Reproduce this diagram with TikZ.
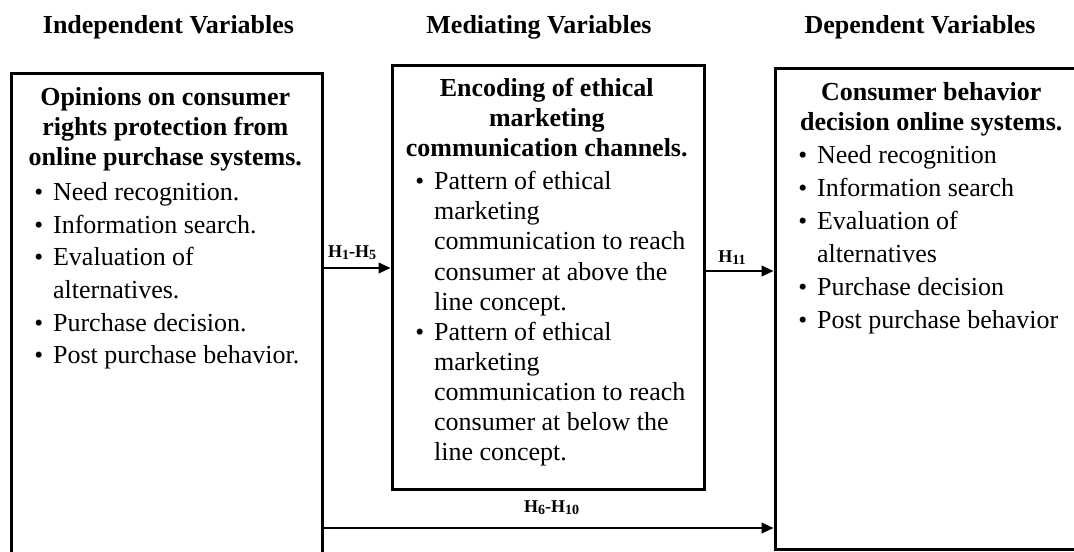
\documentclass[tikz,border=0pt]{standalone}
\usepackage{fontspec}
\setmainfont{Liberation Serif}
\usetikzlibrary{arrows.meta}
\newlength\bpre \newlength\bwid
\setlength\bpre{18.5pt}\setlength\bwid{14pt}
\newcommand{\bitm}[1]{\par\noindent\hangindent=\dimexpr\bpre+\bwid\relax\hangafter=1\hspace*{\bpre}\makebox[\bwid][l]{\fontsize{19}{19}\selectfont\textbullet}#1}
\newcommand{\ttl}[1]{{\centering\bfseries\fontsize{19.5}{22.5}\selectfont #1\par}}
\newcommand{\hs}[1]{\raisebox{-2.2pt}{\fontsize{10.5}{10.5}\selectfont #1}}
\hbadness=10000 \hfuzz=50pt
\begin{document}
\begin{tikzpicture}[x=0.75pt,y=-0.75pt,
  box/.style={draw, line width=2.25pt, inner sep=0pt},
  hdr/.style={font=\bfseries\fontsize{19.5}{22.5}\selectfont, anchor=base, inner sep=0pt},
  lbl/.style={font=\bfseries\fontsize{13.5}{15}\selectfont, anchor=base, inner sep=0pt},
  arr/.style={line width=1.5pt, -{Triangle[length=9pt,width=8pt]}},
  txt/.style={anchor=base west, inner sep=0pt}]
\useasboundingbox (0,0) rectangle (1074,551);
\clip (0,0) rectangle (1074,551);
% headers
\node[hdr] (hiv) at (168.5,33) {Independent Variables};
\node[hdr] (hmv) at (539,33) {Mediating Variables};
\node[hdr] (hdv) at (920,33) {Dependent Variables};
% boxes
\node[box, minimum width=233.25pt, minimum height=410.25pt] (iv) at (166.5,346.5) {};
\node[box, minimum width=234pt, minimum height=318pt] (mv) at (548,277) {};
\node[box, minimum width=236.25pt, minimum height=360.75pt] (dv) at (932.5,308.5) {};
% texts
\node[txt] (ivt) at ([yshift=-25.5pt]iv.north west) {\parbox[t]{233.25pt}{\raggedright
  \ttl{Opinions on consumer\\ rights protection from\\ online purchase systems.}\vspace{1.75pt}%
  \fontsize{19.5}{24.5}\selectfont
  \bitm{Need recognition.}\bitm{Information search.}\bitm{Evaluation of\newline alternatives.}\bitm{Purchase decision.}\bitm{Post purchase behavior.}\par}};
\node[txt] (mvt) at ([yshift=-24.75pt]mv.north west) {\parbox[t]{234pt}{\raggedright
  \ttl{Encoding of ethical\\ marketing\\ communication channels.}\vspace{2.25pt}%
  \fontsize{19.5}{22.6}\selectfont
  \bitm{Pattern of ethical\newline marketing\newline communication to reach\newline consumer at above the\newline line concept.}\bitm{Pattern of ethical\newline marketing\newline communication to reach\newline consumer at below the\newline line concept.}\par}};
\node[txt] (dvt) at ([yshift=-25.5pt]dv.north west) {\parbox[t]{236.25pt}{\raggedright
  \ttl{Consumer behavior\\ decision online systems.}%
  \fontsize{19.5}{24.75}\selectfont
  \bitm{Need recognition}\bitm{Information search}\bitm{Evaluation of\newline alternatives}\bitm{Purchase decision}\bitm{Post purchase behavior}\par}};
% arrows
\coordinate (a15) at (0,268);
\coordinate (a11) at (0,271);
\coordinate (a610) at (0,528);
\draw[arr] (iv.east |- a15) -- (mv.west |- a15);
\draw[arr] (mv.east |- a11) -- (dv.west |- a11);
\draw[arr] (iv.east |- a610) -- (dv.west |- a610);
% labels
\node[lbl] (l15) at (352,257) {H\hs{1}-H\hs{5}};
\node[lbl] (l11) at (732,262) {H\hs{11}};
\node[lbl] (l610) at (551.5,512) {H\hs{6}-H\hs{10}};
\end{tikzpicture}
\end{document}
